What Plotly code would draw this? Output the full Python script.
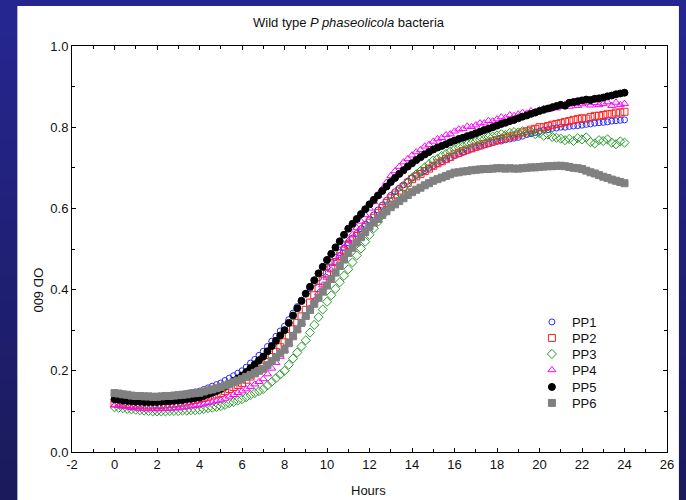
import plotly.graph_objects as go

# Sampling grid (hours)
HOURS = [i / 5 for i in range(121)]

PP1 = [0.138, 0.139, 0.138, 0.137, 0.137, 0.136, 0.136, 0.135, 0.135, 0.134,
       0.134, 0.135, 0.136, 0.137, 0.139, 0.140, 0.142, 0.144, 0.146, 0.148,
       0.150, 0.154, 0.158, 0.162, 0.166, 0.170, 0.176, 0.182, 0.188, 0.194,
       0.200, 0.209, 0.219, 0.228, 0.238, 0.248, 0.260, 0.273, 0.285, 0.298,
       0.310, 0.326, 0.342, 0.358, 0.374, 0.390, 0.403, 0.416, 0.429, 0.442,
       0.455, 0.467, 0.479, 0.491, 0.503, 0.515, 0.527, 0.538, 0.550, 0.561,
       0.572, 0.584, 0.596, 0.608, 0.620, 0.632, 0.641, 0.650, 0.658, 0.667,
       0.675, 0.681, 0.687, 0.693, 0.699, 0.705, 0.710, 0.715, 0.720, 0.725,
       0.730, 0.734, 0.738, 0.742, 0.746, 0.750, 0.753, 0.756, 0.759, 0.762,
       0.765, 0.766, 0.769, 0.771, 0.773, 0.775, 0.778, 0.782, 0.784, 0.787,
       0.790, 0.793, 0.794, 0.797, 0.798, 0.800, 0.800, 0.802, 0.803, 0.804,
       0.805, 0.807, 0.808, 0.810, 0.811, 0.812, 0.813, 0.815, 0.816, 0.817,
       0.818]

PP2 = [0.120, 0.119, 0.118, 0.118, 0.117, 0.116, 0.116, 0.115, 0.115, 0.115,
       0.115, 0.116, 0.117, 0.118, 0.119, 0.120, 0.122, 0.124, 0.126, 0.128,
       0.130, 0.133, 0.136, 0.139, 0.142, 0.145, 0.150, 0.155, 0.160, 0.165,
       0.170, 0.178, 0.186, 0.194, 0.202, 0.210, 0.222, 0.234, 0.246, 0.258,
       0.270, 0.286, 0.302, 0.318, 0.334, 0.350, 0.368, 0.386, 0.404, 0.422,
       0.440, 0.454, 0.468, 0.482, 0.496, 0.510, 0.521, 0.532, 0.543, 0.554,
       0.565, 0.577, 0.589, 0.601, 0.613, 0.625, 0.634, 0.644, 0.653, 0.663,
       0.672, 0.679, 0.685, 0.692, 0.698, 0.705, 0.711, 0.716, 0.722, 0.727,
       0.733, 0.737, 0.741, 0.745, 0.748, 0.752, 0.755, 0.759, 0.762, 0.765,
       0.768, 0.771, 0.774, 0.777, 0.779, 0.782, 0.787, 0.790, 0.794, 0.796,
       0.800, 0.800, 0.803, 0.806, 0.808, 0.810, 0.813, 0.815, 0.818, 0.820,
       0.822, 0.821, 0.825, 0.828, 0.828, 0.830, 0.832, 0.833, 0.836, 0.836,
       0.838]

PP3 = [0.110, 0.109, 0.108, 0.106, 0.105, 0.104, 0.103, 0.102, 0.101, 0.100,
       0.100, 0.100, 0.100, 0.101, 0.101, 0.101, 0.102, 0.102, 0.103, 0.103,
       0.104, 0.106, 0.108, 0.109, 0.111, 0.113, 0.116, 0.120, 0.123, 0.127,
       0.130, 0.135, 0.140, 0.145, 0.150, 0.155, 0.164, 0.173, 0.182, 0.191,
       0.200, 0.215, 0.230, 0.245, 0.260, 0.275, 0.294, 0.313, 0.332, 0.351,
       0.370, 0.386, 0.402, 0.418, 0.434, 0.450, 0.467, 0.484, 0.501, 0.518,
       0.535, 0.551, 0.567, 0.583, 0.599, 0.615, 0.627, 0.639, 0.651, 0.663,
       0.675, 0.684, 0.692, 0.701, 0.709, 0.718, 0.722, 0.729, 0.734, 0.740,
       0.745, 0.750, 0.753, 0.758, 0.761, 0.765, 0.769, 0.771, 0.776, 0.777,
       0.780, 0.783, 0.781, 0.786, 0.788, 0.787, 0.790, 0.786, 0.789, 0.783,
       0.785, 0.779, 0.782, 0.776, 0.774, 0.772, 0.768, 0.771, 0.766, 0.773,
       0.770, 0.775, 0.763, 0.760, 0.768, 0.766, 0.770, 0.762, 0.758, 0.765,
       0.762]

PP4 = [0.115, 0.114, 0.112, 0.111, 0.109, 0.108, 0.107, 0.107, 0.106, 0.106,
       0.106, 0.106, 0.107, 0.107, 0.108, 0.108, 0.110, 0.111, 0.113, 0.114,
       0.116, 0.118, 0.121, 0.123, 0.126, 0.128, 0.132, 0.137, 0.141, 0.146,
       0.150, 0.155, 0.161, 0.167, 0.173, 0.180, 0.192, 0.206, 0.220, 0.235,
       0.250, 0.267, 0.284, 0.301, 0.318, 0.335, 0.354, 0.373, 0.392, 0.411,
       0.430, 0.448, 0.466, 0.484, 0.502, 0.520, 0.536, 0.552, 0.568, 0.584,
       0.600, 0.616, 0.632, 0.648, 0.664, 0.680, 0.692, 0.703, 0.714, 0.722,
       0.731, 0.739, 0.744, 0.753, 0.757, 0.765, 0.771, 0.774, 0.781, 0.783,
       0.790, 0.795, 0.796, 0.802, 0.801, 0.805, 0.810, 0.810, 0.816, 0.815,
       0.820, 0.825, 0.823, 0.830, 0.828, 0.832, 0.836, 0.834, 0.840, 0.838,
       0.842, 0.846, 0.843, 0.850, 0.847, 0.852, 0.856, 0.851, 0.858, 0.853,
       0.857, 0.861, 0.854, 0.860, 0.855, 0.858, 0.862, 0.853, 0.861, 0.855,
       0.858]

PP5 = [0.130, 0.129, 0.127, 0.126, 0.125, 0.124, 0.124, 0.123, 0.123, 0.123,
       0.123, 0.124, 0.125, 0.125, 0.126, 0.127, 0.128, 0.130, 0.131, 0.133,
       0.134, 0.138, 0.142, 0.146, 0.150, 0.155, 0.161, 0.168, 0.175, 0.181,
       0.188, 0.197, 0.207, 0.216, 0.226, 0.235, 0.248, 0.261, 0.274, 0.287,
       0.300, 0.318, 0.336, 0.354, 0.372, 0.390, 0.407, 0.423, 0.440, 0.456,
       0.473, 0.488, 0.504, 0.519, 0.535, 0.550, 0.562, 0.574, 0.586, 0.598,
       0.610, 0.621, 0.632, 0.643, 0.654, 0.665, 0.675, 0.685, 0.694, 0.703,
       0.711, 0.719, 0.726, 0.733, 0.739, 0.745, 0.750, 0.754, 0.758, 0.763,
       0.767, 0.771, 0.774, 0.778, 0.781, 0.785, 0.789, 0.793, 0.796, 0.800,
       0.804, 0.808, 0.811, 0.815, 0.818, 0.822, 0.826, 0.829, 0.833, 0.836,
       0.840, 0.843, 0.846, 0.849, 0.852, 0.855, 0.853, 0.860, 0.862, 0.864,
       0.866, 0.868, 0.867, 0.870, 0.871, 0.873, 0.876, 0.878, 0.881, 0.883,
       0.885]

PP6 = [0.145, 0.144, 0.142, 0.141, 0.139, 0.138, 0.138, 0.137, 0.137, 0.136,
       0.136, 0.137, 0.138, 0.138, 0.139, 0.140, 0.141, 0.142, 0.144, 0.145,
       0.146, 0.149, 0.152, 0.154, 0.157, 0.160, 0.164, 0.168, 0.172, 0.176,
       0.180, 0.185, 0.190, 0.195, 0.200, 0.205, 0.214, 0.224, 0.233, 0.243,
       0.252, 0.268, 0.285, 0.302, 0.318, 0.335, 0.350, 0.365, 0.380, 0.395,
       0.410, 0.426, 0.442, 0.458, 0.474, 0.490, 0.503, 0.516, 0.529, 0.542,
       0.555, 0.565, 0.574, 0.584, 0.593, 0.603, 0.610, 0.618, 0.625, 0.633,
       0.640, 0.646, 0.651, 0.657, 0.662, 0.668, 0.672, 0.676, 0.680, 0.684,
       0.688, 0.689, 0.691, 0.692, 0.694, 0.695, 0.696, 0.697, 0.697, 0.698,
       0.699, 0.699, 0.698, 0.699, 0.698, 0.698, 0.699, 0.700, 0.701, 0.701,
       0.702, 0.703, 0.704, 0.704, 0.705, 0.705, 0.704, 0.702, 0.700, 0.699,
       0.697, 0.693, 0.689, 0.686, 0.682, 0.678, 0.675, 0.671, 0.668, 0.665,
       0.662]

SERIES_NAMES = ["PP1", "PP2", "PP3", "PP4", "PP5", "PP6"]
SERIES_VALUES = [PP1, PP2, PP3, PP4, PP5, PP6]

X_TICKS = [-2, 0, 2, 4, 6, 8, 10, 12, 14, 16, 18, 20, 22, 24, 26]
Y_TICKS = [0.0, 0.2, 0.4, 0.6, 0.8, 1.0]

STYLES = [
    dict(symbol="circle-open", color="#2a2aff", size=6),
    dict(symbol="square-open", color="#ff2020", size=7),
    dict(symbol="diamond-open", color="#279a27", size=7),
    dict(symbol="triangle-up-open", color="#ff00ff", size=7),
    dict(symbol="circle", color="#000000", size=7),
    dict(symbol="square", color="#808080", size=7),
]

FONT = "Arial, 'Liberation Sans', sans-serif"
W, H = 686, 500
L, R, T, B = 72, 15, 46, 48
PW, PH = W - L - R, H - T - B


def px_x(px):
    return (px - L) / PW


def px_y(py):
    return (H - B - py) / PH


fig = go.Figure()
legend_rows = [322, 338, 354, 370, 387, 403]
for i, (name, vals, st) in enumerate(zip(SERIES_NAMES, SERIES_VALUES, STYLES)):
    lg = "legend" if i == 0 else f"legend{i + 1}"
    fig.add_trace(go.Scatter(
        x=HOURS, y=vals, mode="markers", name=name, legend=lg,
        marker=dict(symbol=st["symbol"], color=st["color"], size=st["size"],
                    line=dict(width=1, color=st["color"])),
        hoverinfo="skip",
    ))

legend_layout = {}
for i, py in enumerate(legend_rows):
    key = "legend" if i == 0 else f"legend{i + 1}"
    legend_layout[key] = dict(
        x=px_x(535), y=px_y(py), xanchor="left", yanchor="middle",
        bgcolor="rgba(0,0,0,0)", borderwidth=0,
        font=dict(family=FONT, size=13, color="#111111"),
        tracegroupgap=0,
    )

# background gradient strips + white panel
shapes = []
n = 25
top_c = (38, 38, 145)
bot_c = (26, 26, 92)
for k in range(n):
    f = k / (n - 1)
    c = tuple(round(top_c[j] + (bot_c[j] - top_c[j]) * f) for j in range(3))
    y0 = px_y(H * (k + 1) / n)
    y1 = px_y(H * k / n)
    shapes.append(dict(type="rect", xref="paper", yref="paper", layer="below",
                       x0=px_x(-5), x1=px_x(W + 5), y0=y0 - 0.002, y1=y1 + 0.002,
                       line=dict(width=0), fillcolor=f"rgb{c}"))
shapes.append(dict(type="rect", xref="paper", yref="paper", layer="below",
                   x0=px_x(17), x1=px_x(683), y0=px_y(H + 10), y1=px_y(6),
                   line=dict(width=0), fillcolor="white"))

axis_common = dict(
    showgrid=False, zeroline=False, showline=True, linecolor="black", linewidth=1,
    mirror="ticks", ticks="inside", ticklen=4, tickcolor="black", tickwidth=1,
    tickfont=dict(family=FONT, size=13, color="#111111"),
)

fig.update_layout(
    width=W, height=H,
    margin=dict(l=L, r=R, t=T, b=B, pad=0),
    paper_bgcolor="#22227a", plot_bgcolor="white",
    showlegend=True,
    shapes=shapes,
    xaxis=dict(range=[-2, 26], tickvals=X_TICKS, ticktext=[str(v) for v in X_TICKS],
               minor=dict(dtick=1, ticks="inside", ticklen=3, tickcolor="black"),
               **axis_common),
    yaxis=dict(range=[0, 1], tickvals=Y_TICKS, ticktext=[f"{v:.1f}" for v in Y_TICKS],
               minor=dict(dtick=0.1, ticks="inside", ticklen=3, tickcolor="black"),
               **axis_common),
    annotations=[
        dict(text="Wild type <i>P phaseolicola</i> bacteria", xref="paper", yref="paper",
             x=px_x(351), y=px_y(23), showarrow=False, xanchor="center", yanchor="middle",
             font=dict(family=FONT, size=13, color="#111111")),
        dict(text="Hours", xref="paper", yref="paper",
             x=px_x(370), y=px_y(490), showarrow=False, xanchor="center", yanchor="middle",
             font=dict(family=FONT, size=13, color="#111111")),
        dict(text="OD 600", xref="paper", yref="paper", textangle=90,
             x=px_x(39), y=px_y(290), showarrow=False, xanchor="center", yanchor="middle",
             font=dict(family=FONT, size=13, color="#111111")),
    ],
    **legend_layout,
)

fig.write_html(
    "out.html",
    config={"displayModeBar": False},
    post_script="document.body.style.margin='0';document.body.style.padding='0';",
)
